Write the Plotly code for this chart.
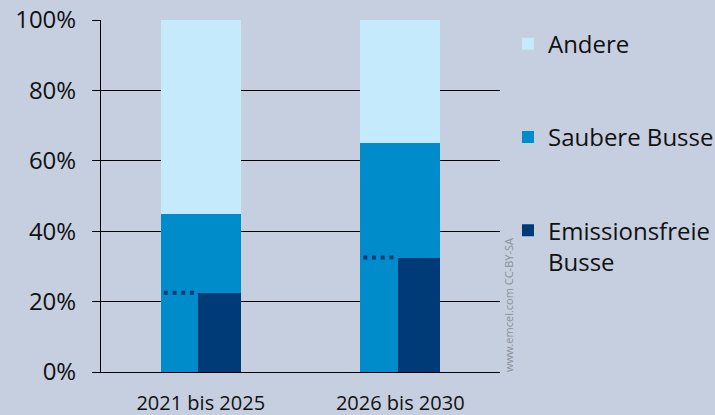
import plotly.graph_objects as go

categories = ["2021 bis 2025", "2026 bis 2030"]
clean_share = [45, 65]          # Saubere Busse (incl. emissionsfreie)
zero_emission = [22.5, 32.5]    # Emissionsfreie Busse
other_share = [100 - c for c in clean_share]  # Andere
y_ticks = [0, 20, 40, 60, 80, 100]
y_tick_labels = ["0%", "20%", "40%", "60%", "80%", "100%"]

BG = "#c5cfdf"
C_OTHER = "#c4eafc"
C_CLEAN = "#008ccb"
C_ZERO = "#003b78"
FONT = "Open Sans"

fig = go.Figure()
fig.add_trace(go.Bar(
    x=categories, y=other_share, base=clean_share, name="Andere",
    marker=dict(color=C_OTHER, line=dict(width=0)), width=0.4,
    legendgroup="a",
))
fig.add_trace(go.Bar(
    x=categories, y=clean_share, name="Saubere Busse",
    marker=dict(color=C_CLEAN, line=dict(width=0)), width=0.4,
    legendgroup="b",
))
fig.add_trace(go.Bar(
    x=categories, y=zero_emission, name="Emissionsfreie<br>Busse",
    marker=dict(color=C_ZERO, line=dict(width=0)), width=0.213, offset=-0.013,
    legendgroup="c",
))

# dotted reference lines (mirror of the zero-emission level on the left half)
for i, v in enumerate(zero_emission):
    fig.add_shape(
        type="line", xref="x", yref="y",
        x0=i - 0.185, x1=i - 0.025, y0=v, y1=v,
        line=dict(color=C_ZERO, width=4, dash="4px,4.7px"),
        layer="above",
    )

fig.add_annotation(
    text="www.emcel.com CC-BY-SA", textangle=-90,
    xref="paper", yref="paper", x=1.02, y=0.19,
    xanchor="center", yanchor="middle", showarrow=False,
    font=dict(family=FONT, size=11, color="#8a8f99"),
)

fig.update_layout(
    width=715, height=415,
    margin=dict(l=101, r=215, t=20, b=43, autoexpand=False),
    paper_bgcolor=BG, plot_bgcolor=BG,
    barmode="overlay",
    bargap=0,
    font=dict(family=FONT, color="#111111"),
    showlegend=True,
    legend=dict(
        x=1.02, y=0.995, xanchor="left", yanchor="top",
        traceorder="grouped", tracegroupgap=59, valign="top",
        font=dict(family=FONT, size=24, color="#111111"),
        bgcolor="rgba(0,0,0,0)", maxheight=400,
    ),
    xaxis=dict(
        range=[-0.5, 1.5], showgrid=False, showline=True, linecolor="black", linewidth=1,
        ticks="outside", ticklen=13, tickcolor="rgba(0,0,0,0)",
        tickfont=dict(family=FONT, size=20, color="#111111"),
        fixedrange=True, automargin=False,
    ),
    yaxis=dict(
        range=[0, 100], tickvals=y_ticks, ticktext=y_tick_labels,
        showgrid=True, gridcolor="black", gridwidth=1,
        zeroline=True, zerolinecolor="black", zerolinewidth=1,
        showline=True, linecolor="black", linewidth=1,
        ticks="outside", ticklen=8, tickcolor="black",
        tickfont=dict(family=FONT, size=24, color="#111111"),
        ticklabelstandoff=11, automargin=False, fixedrange=True,
    ),
)

fig.write_html("out.html", config={"displayModeBar": False},
               post_script="document.body.style.margin='0';")
